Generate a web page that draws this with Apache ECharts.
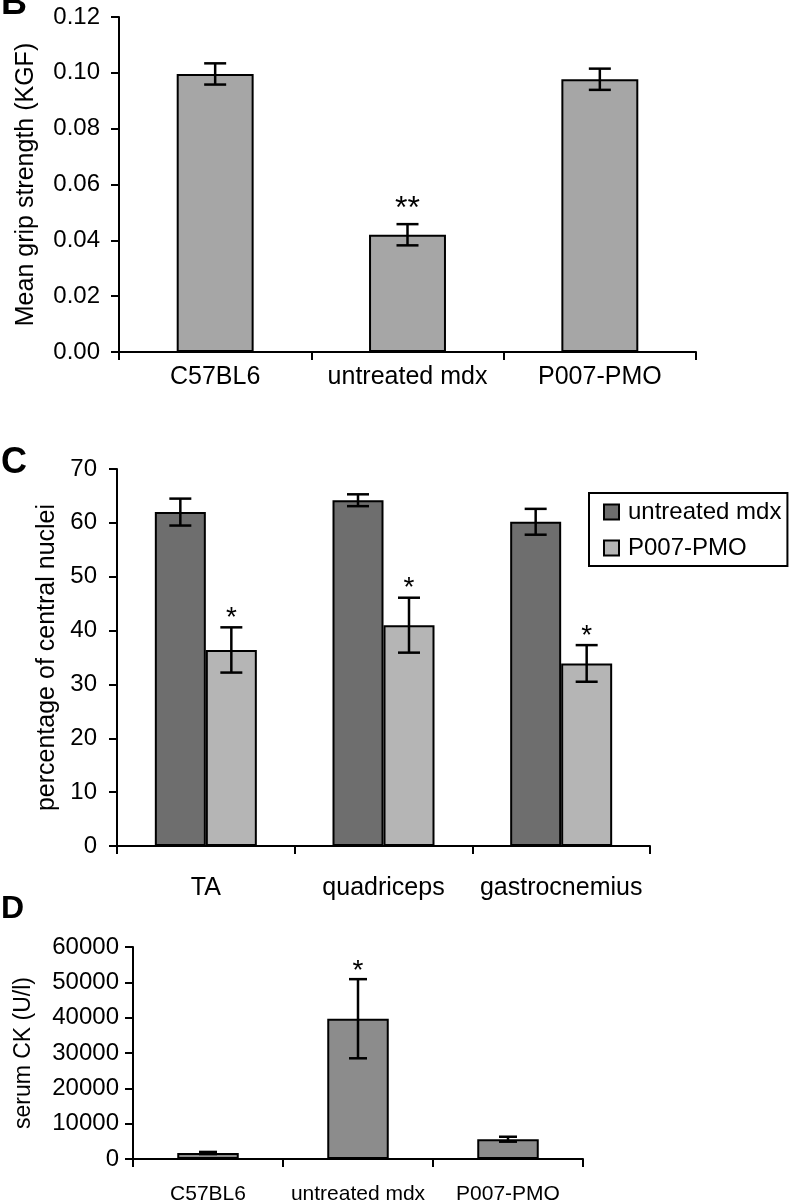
<!DOCTYPE html>
<html>
<head>
<meta charset="utf-8">
<script src="https://cdn.jsdelivr.net/npm/echarts@6/dist/echarts.min.js"></script>
<style>
  html, body { margin: 0; background: #fff; }
  #chart { width: 790px; height: 1200px; }
</style>
</head>
<body>
<div id="chart"></div>
<script>
var FONT = 'Liberation Sans, Arial, sans-serif';

// B: grip strength
var gripCats = ['C57BL6', 'untreated mdx', 'P007-PMO'];
var gripMean = [0.0996, 0.0420, 0.0977];
var gripErr = [0.0038, 0.0038, 0.0038];
var gripStars = ['', '**', ''];
var gripAxis = [0, 0.12, 0.02];

// C: central nuclei
var nucleiCats = ['TA', 'quadriceps', 'gastrocnemius'];
var nucleiNames = ['untreated mdx', 'P007-PMO'];
var mdxNuclei = [62.0, 64.2, 60.2];
var mdxNucleiErr = [2.5, 1.1, 2.4];
var pmoNuclei = [36.4, 41.0, 33.9];
var pmoNucleiErr = [4.2, 5.1, 3.4];
var mdxStars = ['', '', ''];
var pmoStars = ['*', '*', '*'];
var nucleiAxis = [0, 70, 10];

// D: serum CK
var ckCats = ['C57BL6', 'untreated mdx', 'P007-PMO'];
var ckMean = [1700, 39700, 5600];
var ckErr = [300, 11200, 700];
var ckStars = ['', '*', ''];
var ckAxis = [0, 60000, 10000];

var NUC_BAR = 51;

function withErr(mean, err) {
  return mean.map(function (v, i) { return [i, v, err[i]]; });
}

function errorBars(offset, cap, stars, lift, starSize) {
  return function (params, api) {
    var i = api.value(0);
    var x = api.coord([i, api.value(1)])[0] + offset;
    var top = api.coord([i, api.value(1) + api.value(2)])[1];
    var bot = api.coord([i, api.value(1) - api.value(2)])[1];
    var st = { stroke: '#000', lineWidth: 2.5 };
    var kids = [
      { type: 'line', shape: { x1: x, y1: top, x2: x, y2: bot }, style: st },
      { type: 'line', shape: { x1: x - cap, y1: top, x2: x + cap, y2: top }, style: st },
      { type: 'line', shape: { x1: x - cap, y1: bot, x2: x + cap, y2: bot }, style: st }
    ];
    var s = stars[params.dataIndex];
    if (s) {
      kids.push({
        type: 'text',
        style: {
          text: s, x: x, y: top - lift, align: 'center', verticalAlign: 'middle',
          fontSize: starSize, fontFamily: FONT, fill: '#000'
        }
      });
    }
    return { type: 'group', children: kids };
  };
}

function catAxis(idx, cats, size, margin) {
  return {
    type: 'category', gridIndex: idx, data: cats,
    axisLine: { lineStyle: { color: '#000', width: 2 } },
    axisTick: { show: true, length: 8, lineStyle: { color: '#000', width: 2 } },
    axisLabel: { color: '#000', fontSize: size, fontFamily: FONT, margin: margin, interval: 0 }
  };
}

function valAxis(idx, range, name, nameSize, nameGap, size, margin, digits) {
  return {
    type: 'value', gridIndex: idx, min: range[0], max: range[1], interval: range[2],
    name: name, nameLocation: 'middle', nameGap: nameGap,
    nameTextStyle: { color: '#000', fontSize: nameSize, fontFamily: FONT },
    axisLine: { show: true, lineStyle: { color: '#000', width: 2 } },
    axisTick: { show: true, length: 8, lineStyle: { color: '#000', width: 2 } },
    splitLine: { show: false },
    axisLabel: {
      color: '#000', fontSize: size, fontFamily: FONT, margin: margin,
      formatter: function (v) { return v.toFixed(digits); }
    }
  };
}

var border = { borderColor: '#000', borderWidth: 2 };

var chart = echarts.init(document.getElementById('chart'), null, { renderer: 'canvas' });
chart.setOption({
  backgroundColor: '#fff',
  animation: false,
  grid: [
    { left: 119, top: 17, width: 577, height: 335, outerBoundsMode: 'none' },
    { left: 117, top: 469, width: 533, height: 377, outerBoundsMode: 'none' },
    { left: 133, top: 947, width: 450, height: 212, outerBoundsMode: 'none' }
  ],
  xAxis: [
    catAxis(0, gripCats, 25, 13),
    catAxis(1, nucleiCats, 25, 30),
    catAxis(2, ckCats, 21, 25)
  ],
  yAxis: [
    valAxis(0, gripAxis, 'Mean grip strength (KGF)', 25, 80, 24, 19, 2),
    valAxis(1, nucleiAxis, 'percentage of central nuclei', 25, 57, 24, 20, 0),
    valAxis(2, ckAxis, 'serum CK (U/l)', 23, 98, 24, 14, 0)
  ],
  legend: {
    data: nucleiNames,
    left: 589, top: 493, orient: 'vertical',
    borderColor: '#000', borderWidth: 2, padding: [7, 6, 6, 14],
    itemGap: 12, itemWidth: 15, itemHeight: 15, icon: 'rect',
    textStyle: { color: '#000', fontSize: 24, fontFamily: FONT, padding: [0, 0, 0, 4] }
  },
  graphic: [
    { type: 'text', left: 1, top: -14, style: { text: 'B', font: 'bold 36px ' + FONT, fill: '#000' } },
    { type: 'text', left: 1, top: 445, style: { text: 'C', font: 'bold 36px ' + FONT, fill: '#000' } },
    { type: 'text', left: 1, top: 893, style: { text: 'D', font: 'bold 32px ' + FONT, fill: '#000' } }
  ],
  series: [
    {
      type: 'bar', xAxisIndex: 0, yAxisIndex: 0, data: gripMean, barWidth: '40%',
      itemStyle: Object.assign({ color: '#a6a6a6' }, border)
    },
    {
      type: 'custom', xAxisIndex: 0, yAxisIndex: 0, z: 10, clip: false,
      data: withErr(gripMean, gripErr), encode: { x: 0, y: 1 },
      renderItem: errorBars(0, 11, gripStars, 15, 32)
    },
    {
      name: nucleiNames[0], type: 'bar', xAxisIndex: 1, yAxisIndex: 1, data: mdxNuclei,
      barWidth: NUC_BAR, barGap: '0%',
      itemStyle: Object.assign({ color: '#6e6e6e' }, border)
    },
    {
      name: nucleiNames[1], type: 'bar', xAxisIndex: 1, yAxisIndex: 1, data: pmoNuclei,
      barWidth: NUC_BAR, barGap: '0%',
      itemStyle: Object.assign({ color: '#b5b5b5' }, border)
    },
    {
      type: 'custom', xAxisIndex: 1, yAxisIndex: 1, z: 10, clip: false,
      data: withErr(mdxNuclei, mdxNucleiErr), encode: { x: 0, y: 1 },
      renderItem: errorBars(-NUC_BAR / 2, 11, mdxStars, 9, 28)
    },
    {
      type: 'custom', xAxisIndex: 1, yAxisIndex: 1, z: 10, clip: false,
      data: withErr(pmoNuclei, pmoNucleiErr), encode: { x: 0, y: 1 },
      renderItem: errorBars(NUC_BAR / 2, 11, pmoStars, 9, 28)
    },
    {
      type: 'bar', xAxisIndex: 2, yAxisIndex: 2, data: ckMean, barWidth: '41%',
      itemStyle: Object.assign({ color: '#8c8c8c' }, border)
    },
    {
      type: 'custom', xAxisIndex: 2, yAxisIndex: 2, z: 10, clip: false,
      data: withErr(ckMean, ckErr), encode: { x: 0, y: 1 },
      renderItem: errorBars(0, 9, ckStars, 8, 28)
    }
  ]
});
</script>
</body>
</html>
